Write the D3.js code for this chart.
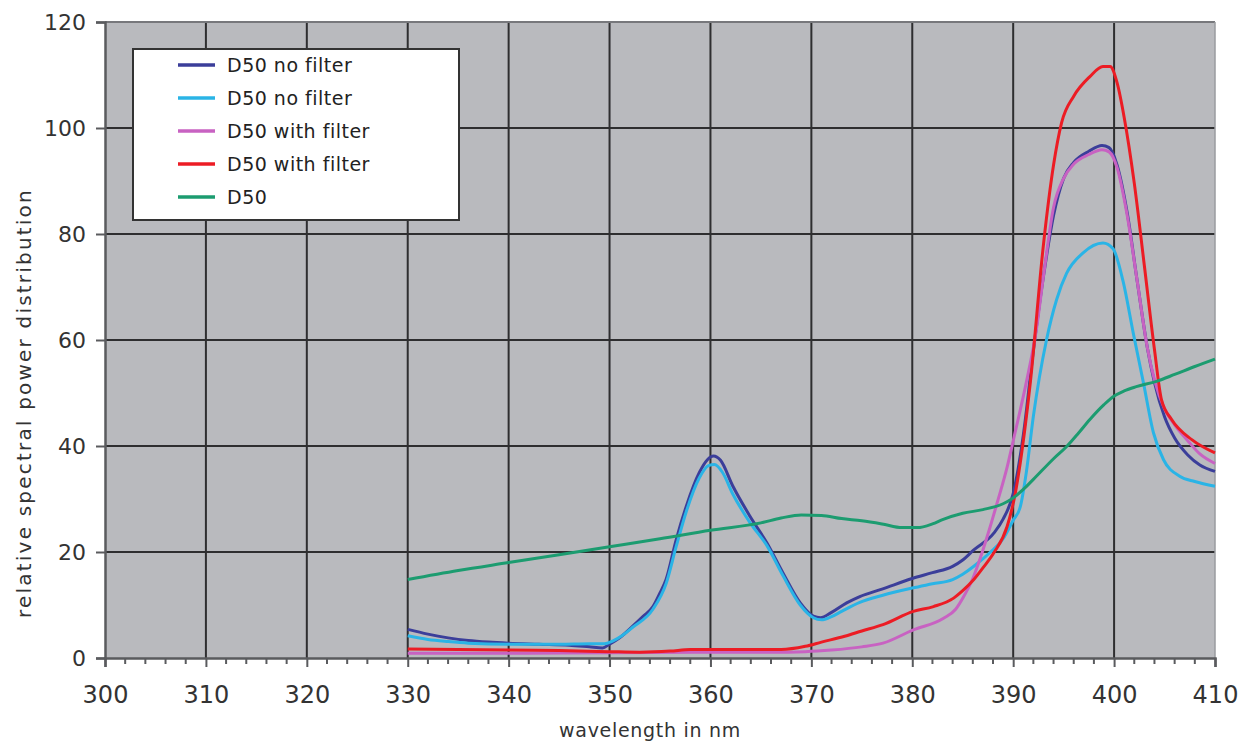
<!DOCTYPE html>
<html>
<head>
<meta charset="utf-8">
<script src="https://cdn.jsdelivr.net/npm/d3@7/dist/d3.min.js"></script>
<style>
  html, body { margin: 0; padding: 0; background: #fff; }
  svg { display: block; font-family: "DejaVu Sans", sans-serif; }
</style>
</head>
<body>
<svg id="chart" width="1240" height="749"></svg>
<script>
// Relative spectral power distributions, [wavelength nm, value]
const noFilterA = [
  [330,5.4],[332,4.5],[334,3.8],[336,3.3],[338,3.0],[340,2.8],[343,2.6],[346,2.4],[348,2.1],[349.3,1.9],
  [350,2.6],[351,3.8],[352.3,6.0],[353.3,7.8],[354.3,9.7],[355,12.3],[355.6,14.8],[356.6,22.3],[357.6,28.6],
  [358.9,35],[359.7,37.4],[360.3,38.1],[361,37.3],[362.2,32.5],[363.9,26.8],[365.6,21.7],[367.2,16.0],
  [368.9,10.4],[370.2,7.9],[370.9,7.6],[372,8.6],[373.5,10.4],[374.8,11.6],[377,13.0],[380,15.0],[382,16.1],
  [384,17.3],[385,18.5],[386.1,20.4],[388.1,23.6],[389,26.2],[390,31],[391,42],[392,58],[393,72],[394,83.5],
  [395,90.5],[396,93.5],[397.5,95.6],[398.8,96.7],[399.5,96.3],[400.3,93],[401.3,84],[402.3,71],[403.3,58.5],
  [404,52],[405,45.5],[406,41.5],[407.3,38.3],[408.5,36.4],[410,35.2]
];
const noFilterB = [
  [330,4.2],[332,3.5],[334,3.1],[336,2.8],[340,2.6],[345,2.6],[348,2.7],[349.5,2.7],[350.3,3.2],[351.3,4.3],
  [352.3,5.8],[354.3,9.2],[355.6,14],[356.6,21],[357.6,27.6],[358.9,34],[359.8,36.3],[360.4,36.5],[361.2,35],
  [362.2,31],[363.9,25.6],[365.6,21.2],[367.2,15.5],[368.9,10],[370.2,7.6],[371,7.2],[372,7.8],[373,8.8],
  [374.8,10.5],[377,11.8],[380,13.2],[382,14],[384,14.8],[385,15.8],[386.1,17.3],[387.7,19.9],[389,22.5],
  [390,26],[390.7,28.5],[391.3,35],[392,45.6],[393.3,60],[394.3,67.6],[395.3,72.6],[396.9,76.4],[398.9,78.3],
  [399.9,77.2],[400.9,71],[401.9,61.3],[402.9,52],[403.9,42.5],[404.9,37.4],[406.5,34.3],[408,33.3],[410,32.4]
];
const withFilterA = [
  [330,0.9],[340,0.9],[350,1.0],[360,1.1],[366,1.1],[369.4,1.2],[372,1.5],[375,2.1],[377.1,2.8],[380.1,5.3],
  [383.1,7.5],[384.3,9.2],[385.1,11.6],[386,15],[386.8,19.2],[387.6,24],[388.4,29.2],[389.4,36],[390.1,41.8],
  [391.3,52],[392.3,62],[393,72],[394,85],[395,90.5],[396,93.2],[397.5,95],[398.8,95.9],[399.5,95.5],
  [400.3,92.5],[401.3,83.5],[402.3,71],[403.3,58.5],[404,52.5],[405,47],[406,44],[407.3,41],[408.5,38.5],[410,36.7]
];
const withFilterB = [
  [330,1.7],[335,1.6],[340,1.5],[345,1.4],[350,1.2],[353,1.1],[356,1.3],[358,1.6],[362,1.6],[367,1.6],
  [369.4,2.2],[371,3.0],[373.3,4.1],[375,5.1],[377.1,6.3],[380.1,8.8],[382.1,9.7],[384.1,11.3],[385,12.7],
  [386.1,14.8],[387,17],[388.1,19.9],[389.4,24.8],[390.2,31],[390.7,36.8],[391.7,52],[393,78],[394,93],
  [394.8,101],[396,106],[397.6,109.7],[398.9,111.6],[399.6,111.6],[400.3,108.5],[401,102],[402,89.6],[403,74],
  [404,58.2],[404.7,48.7],[405.7,45],[407.7,41.2],[410,38.7]
];
const d50 = [
  [330,14.8],[335,16.5],[340,18],[345,19.5],[350,21],[355,22.5],[360,24.1],[365,25.5],[367,26.4],[369,27],
  [371,26.9],[373,26.3],[375,25.9],[377,25.3],[379,24.6],[380.5,24.6],[382,25.3],[383,26.1],[385,27.3],
  [387,28],[389,29.1],[390,30.2],[391,31.8],[392,33.7],[394,37.6],[395.3,39.9],[396.5,42.5],[397.6,45],
  [399,47.8],[399.9,49.3],[401,50.4],[402.2,51.2],[404.2,52.2],[406,53.5],[408,55],[410,56.4]
];

const seriesNames = ["D50 no filter", "D50 no filter", "D50 with filter", "D50 with filter", "D50"];
const seriesData = [noFilterA, noFilterB, withFilterA, withFilterB, d50];
const seriesColors = ["#3b3e9a", "#2ab4e6", "#c862c2", "#ec1c24", "#1c9c70"];

const xTicks = [300, 310, 320, 330, 340, 350, 360, 370, 380, 390, 400, 410];
const yTicks = [0, 20, 40, 60, 80, 100, 120];
const xTitle = "wavelength in nm";
const yTitle = "relative spectral power distribution";

const svg = d3.select("#chart");
const plotLeft = 105, plotRight = 1215, plotTop = 22, plotBottom = 658;

const x = d3.scaleLinear().domain([300, 410]).range([plotLeft, plotRight]);
const y = d3.scaleLinear().domain([0, 120]).range([plotBottom, plotTop]);

// plot background
svg.append("rect")
  .attr("x", plotLeft).attr("y", plotTop)
  .attr("width", plotRight - plotLeft).attr("height", plotBottom - plotTop)
  .attr("fill", "#b9babe");

// grid
const grid = svg.append("g").attr("stroke", "#2e2e30").attr("stroke-width", 2);
grid.selectAll("line.v").data(xTicks.filter(d => d > 300 && d < 410)).join("line")
  .attr("x1", d => x(d)).attr("x2", d => x(d)).attr("y1", plotTop).attr("y2", plotBottom);
grid.selectAll("line.h").data(yTicks.filter(d => d > 0 && d < 120)).join("line")
  .attr("x1", plotLeft).attr("x2", plotRight).attr("y1", d => y(d)).attr("y2", d => y(d));

// frame
svg.append("line").attr("x1", plotLeft).attr("x2", plotRight).attr("y1", plotTop).attr("y2", plotTop)
  .attr("stroke", "#77787c").attr("stroke-width", 2);
svg.append("line").attr("x1", plotRight).attr("x2", plotRight).attr("y1", plotTop).attr("y2", plotBottom)
  .attr("stroke", "#9a9b9f").attr("stroke-width", 1.5);

// x axis
const xAxis = d3.axisBottom(x).tickValues(xTicks).tickSize(9).tickPadding(19).tickFormat(d3.format("d"));
const gx = svg.append("g").attr("transform", `translate(0,${plotBottom})`).call(xAxis);
gx.select(".domain").attr("stroke", "#5a5b5e").attr("stroke-width", 2.5);
gx.selectAll(".tick line").attr("stroke", "#5a5b5e").attr("stroke-width", 2);
gx.selectAll(".tick text").attr("font-size", 24).attr("fill", "#333").attr("font-family", "DejaVu Sans");
// minor ticks
const minor = d3.range(300, 411, 2).filter(d => d % 10 !== 0);
svg.append("g").selectAll("line").data(minor).join("line")
  .attr("x1", d => x(d)).attr("x2", d => x(d)).attr("y1", plotBottom).attr("y2", plotBottom + 6)
  .attr("stroke", "#5a5b5e").attr("stroke-width", 2);

// y axis
const yAxis = d3.axisLeft(y).tickValues(yTicks).tickSize(9).tickPadding(10).tickFormat(d3.format("d"));
const gy = svg.append("g").attr("transform", `translate(${plotLeft},0)`).call(yAxis);
gy.select(".domain").attr("stroke", "#5a5b5e").attr("stroke-width", 2.5);
gy.selectAll(".tick line").attr("stroke", "#5a5b5e").attr("stroke-width", 2);
gy.selectAll(".tick text").attr("font-size", 22).attr("fill", "#333").attr("font-family", "DejaVu Sans");

// titles
svg.append("text").attr("x", 650).attr("y", 737).attr("text-anchor", "middle")
  .attr("font-size", 19).attr("letter-spacing", 0.7).attr("fill", "#333").text(xTitle);
svg.append("text").attr("transform", "translate(31,403) rotate(-90)").attr("text-anchor", "middle")
  .attr("font-size", 20).attr("letter-spacing", 2.2).attr("fill", "#333").text(yTitle);

// spectra
const line = d3.line().x(d => x(d[0])).y(d => y(d[1])).curve(d3.curveMonotoneX);
svg.append("g").attr("fill", "none").attr("stroke-width", 3).attr("stroke-linejoin", "round")
  .selectAll("path").data(seriesData).join("path")
  .attr("stroke", (d, i) => seriesColors[i])
  .attr("d", line);

// legend
const lg = svg.append("g");
lg.append("rect").attr("x", 133).attr("y", 49).attr("width", 326).attr("height", 171)
  .attr("fill", "#fff").attr("stroke", "#333").attr("stroke-width", 2);
const rowY = i => 65 + i * 33;
const items = lg.selectAll("g.item").data(seriesNames).join("g").attr("class", "item");
items.append("line").attr("x1", 178).attr("x2", 215)
  .attr("y1", (d, i) => rowY(i)).attr("y2", (d, i) => rowY(i))
  .attr("stroke", (d, i) => seriesColors[i]).attr("stroke-width", 3.5);
items.append("text").attr("x", 227).attr("y", (d, i) => rowY(i) + 7)
  .attr("font-size", 19).attr("letter-spacing", 0.5).attr("fill", "#222").text(d => d);
</script>
</body>
</html>
